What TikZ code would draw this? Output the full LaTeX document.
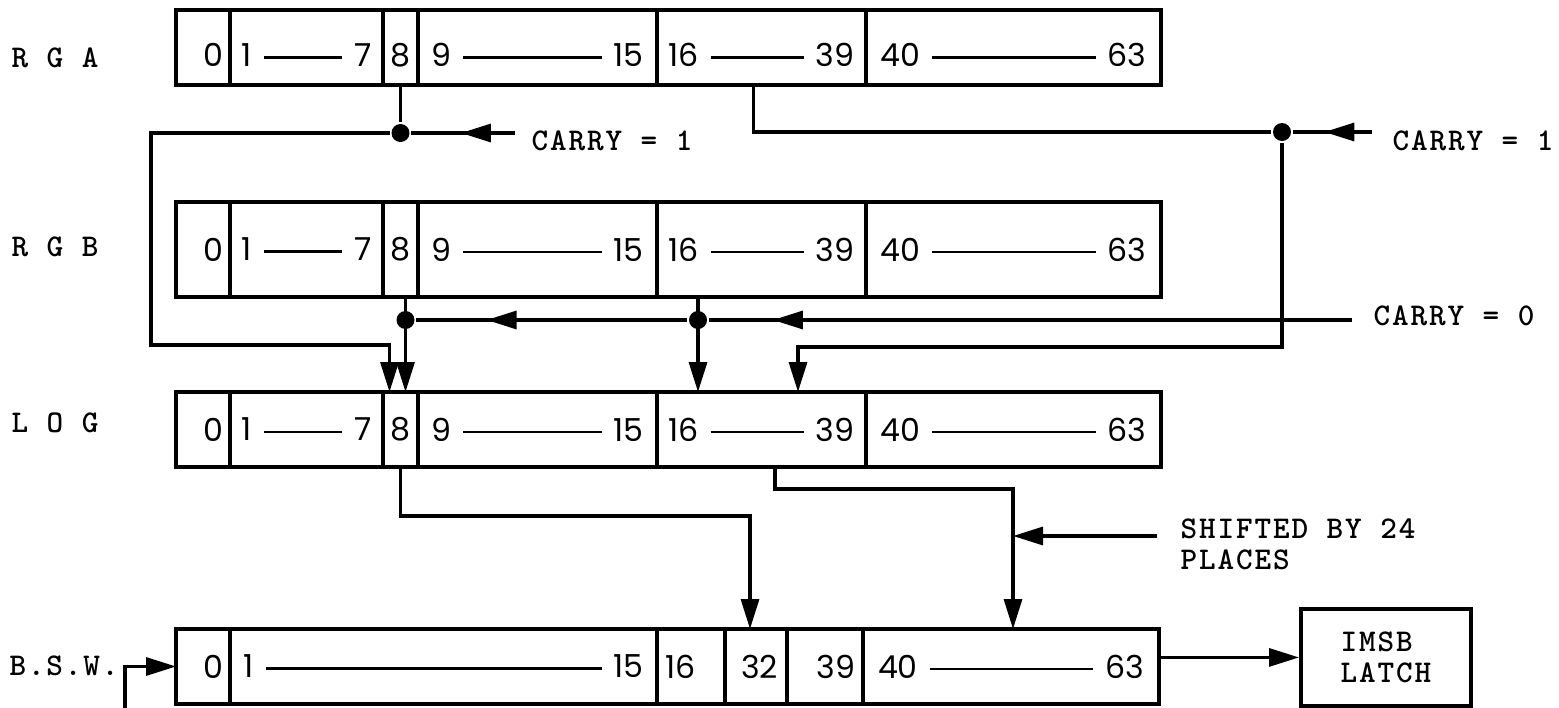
\documentclass[tikz,border=0pt]{standalone}
\usepackage{fontspec}
\usetikzlibrary{arrows.meta, positioning, decorations.markings}

\newfontfamily\digitfont{Poppins}
\newfontfamily\typefont{lmmonolt10-bold.otf}[LetterSpace=6]
\newlength\px
\setlength\px{0.2mm}
% bit range inside a register field: first bit, rule, last bit
\newcommand\dashfill{\leaders\hrule height .33em depth -.25em\hfill}
\newcommand\rng[3]{\makebox[#3]{#1\hspace{2.4mm}\dashfill\hspace{2.4mm}#2}}

\begin{document}
\begin{tikzpicture}[
    x=0.2mm, y=-0.2mm,
    line width=1.8pt,
    cell/.style={rectangle, draw, outer sep=0pt, inner sep=0pt, minimum height=75\px, font=\digitfont\fontsize{18}{20}\selectfont},
    lowcell/.style={cell, text height=22pt, text depth=0pt},
    reglabel/.style={anchor=west, inner sep=0pt, font=\typefont\fontsize{18}{20}\selectfont},
    note/.style={inner sep=0pt, font=\typefont\fontsize{18}{31\px}\selectfont},
    latchbox/.style={rectangle, draw, line width=2.2pt, align=left, minimum width=170\px, minimum height=97\px, font=\typefont\fontsize{18}{31\px}\selectfont},
    junction/.style={circle, fill, inner sep=0pt, minimum size=3.6mm},
    flow/.style={-{Triangle[length=6mm, width=3.6mm]}},
    midflow/.style={postaction={decorate}, decoration={markings, mark=at position #1 with {\arrow{Triangle[length=6mm, width=3.6mm]}}}}
]
\useasboundingbox (0,0) rectangle (1559,708);

% Register A
\node[reglabel] (rga) at (10,58) {R G A};
\node[lowcell, minimum width=54\px, anchor=north west] (a0) at (176,10) {\makebox[40\px][r]{0}};
\node[lowcell, minimum width=153\px, right=0pt of a0] (a1) {\rng{1}{7}{130\px}};
\node[lowcell, minimum width=35\px, right=0pt of a1] (a8) {8};
\node[lowcell, minimum width=239\px, right=0pt of a8] (a9) {\rng{9}{15}{212\px}};
\node[lowcell, minimum width=209\px, right=0pt of a9] (a16) {\rng{16}{39}{186\px}};
\node[lowcell, minimum width=295\px, right=0pt of a16] (a40) {\rng{40}{63}{266\px}};

% Register B
\node[reglabel] (rgb) at (10,247) {R G B};
\node[cell, minimum width=54\px, minimum height=95\px, anchor=north west] (b0) at (176,202) {\makebox[40\px][r]{0}};
\node[cell, minimum width=153\px, minimum height=95\px, right=0pt of b0] (b1) {\rng{1}{7}{130\px}};
\node[cell, minimum width=35\px, minimum height=95\px, right=0pt of b1] (b8) {8};
\node[cell, minimum width=239\px, minimum height=95\px, right=0pt of b8] (b9) {\rng{9}{15}{212\px}};
\node[cell, minimum width=209\px, minimum height=95\px, right=0pt of b9] (b16) {\rng{16}{39}{186\px}};
\node[cell, minimum width=295\px, minimum height=95\px, right=0pt of b16] (b40) {\rng{40}{63}{266\px}};

% Logic register
\node[reglabel] (log) at (10,423) {L O G};
\node[cell, minimum width=54\px, anchor=north west] (l0) at (176,392) {\makebox[40\px][r]{0}};
\node[cell, minimum width=153\px, right=0pt of l0] (l1) {\rng{1}{7}{130\px}};
\node[cell, minimum width=35\px, right=0pt of l1] (l8) {8};
\node[cell, minimum width=239\px, right=0pt of l8] (l9) {\rng{9}{15}{212\px}};
\node[cell, minimum width=209\px, right=0pt of l9] (l16) {\rng{16}{39}{186\px}};
\node[cell, minimum width=295\px, right=0pt of l16] (l40) {\rng{40}{63}{266\px}};

% B.S.W.
\node[reglabel] (bsw) at (8,666) {B.\kern1pt S.\kern1pt W.};
\node[cell, minimum width=54\px, anchor=north west] (s0) at (176,629) {\makebox[40\px][r]{0}};
\node[cell, minimum width=427\px, right=0pt of s0] (s1) {\rng{1}{15}{400\px}};
\node[cell, minimum width=68\px, right=0pt of s1] (s16) {\makebox[52\px][l]{16}};
\node[cell, minimum width=62\px, right=0pt of s16] (s32) {\makebox[44\px][r]{32}};
\node[cell, minimum width=76\px, right=0pt of s32] (s39) {\makebox[60\px][r]{39}};
\node[cell, minimum width=296\px, right=0pt of s39] (s40) {\rng{40}{63}{266\px}};

\node[latchbox, anchor=north west] (latch) at (1299,607) {IMSB\\LATCH};

% Carry into bit 8 and bit 16 of A
\node[junction] (jA) at (a8.south |- 0,133) {};
\node[junction] (jB) at (1282,132) {};
\node[note, anchor=west] (cA) at (530,141) {CARRY = 1};
\node[note, anchor=west] (cB) at (1391,141) {CARRY = 1};
\coordinate (cAin) at (515,133);
\coordinate (cBin) at (1372,132);
\draw (a8.south) -- (jA);
\draw[midflow=0.52] (cAin) -- (jA);
\draw ([xshift=-8\px]a16.south) |- (jB);
\draw[midflow=0.6] (cBin) -- (jB);

\coordinate (loopL) at (151,345);
\coordinate (loopR) at (798,347);
\draw[flow] (jA) -| (loopL) -| ([xshift=-11\px]l8.north);
\draw[flow] (jB) |- (loopR) -- (loopR |- l16.north);

% Carry from B into the logic register
\coordinate (b8out) at ([xshift=5\px]b8.south);
\coordinate (b16out) at ([xshift=41\px]b16.south west);
\node[junction] (jC) at (b8out |- 0,320) {};
\node[junction] (jD) at (b16out |- 0,320) {};
\node[note, anchor=west] (cC) at (1372,316) {CARRY = 0};
\coordinate (cCin) at (1352,320);
\draw[flow] (b8out) -- (b8out |- l8.north);
\draw[flow] (b16out) -- (b16out |- l16.north);
\draw[midflow=0.9] (cCin) -- (jD);
\draw[midflow=0.74] (jD) -- (jC);

% Logic register to B.S.W.
\coordinate (bendE) at (750,516);
\coordinate (bendF) at (1013,489);
\draw[flow] (l8.south) |- (bendE) -- (bendE |- s32.north);
\draw[flow] ([xshift=118\px]l16.south west) |- (bendF) -- (bendF |- s40.north);
\node[note, anchor=north west, align=left] (shift) at (1179,517) {SHIFTED BY 24\\PLACES};
\coordinate (shiftin) at (1157,536);
\draw[flow] (shiftin) -- (bendF |- shiftin);

\draw[flow] (s40.east |- latch.west) -- (latch.west);
\coordinate (bswin) at (125,712);
\draw[flow] (bswin) |- (s0.west);

\end{tikzpicture}
\end{document}
